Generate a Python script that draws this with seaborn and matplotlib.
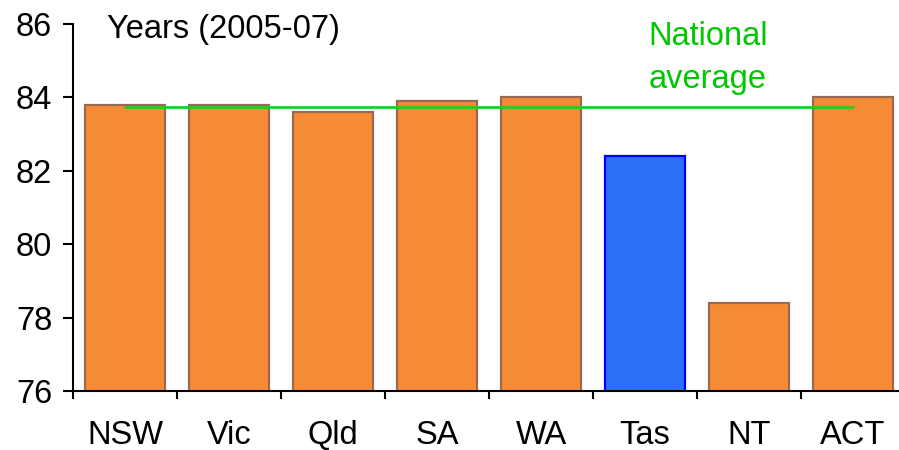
import matplotlib
matplotlib.use("Agg")
import matplotlib.pyplot as plt
import seaborn as sns

states = ["NSW", "Vic", "Qld", "SA", "WA", "Tas", "NT", "ACT"]
life_exp = [83.8, 83.8, 83.6, 83.9, 84.0, 82.4, 78.4, 84.0]
national_avg = 83.75
highlight = "Tas"

sns.set_style("white")
plt.rcParams["font.family"] = ["Liberation Sans", "DejaVu Sans"]
plt.rcParams["text.color"] = "black"
plt.rcParams["xtick.color"] = "black"
plt.rcParams["ytick.color"] = "black"

fig = plt.figure(figsize=(8.99, 4.5), dpi=100)
ax = fig.add_axes([73 / 899, 59 / 450, 832 / 899, 367 / 450])

fill = {s: ("#2E6FF7" if s == highlight else "#F58B35") for s in states}
sns.barplot(x=states, y=life_exp, hue=states, palette=fill, legend=False,
            width=0.77, ax=ax, saturation=1)

for patch, s in zip(ax.patches, states):
    patch.set_edgecolor("#0000FF" if s == highlight else "#9A6A50")
    patch.set_linewidth(1.6)

# national average line runs from the first to the last bar centre
ax.plot([0, len(states) - 1], [national_avg, national_avg],
        color="#22CC22", linewidth=2)

ax.set_ylim(76, 86)
ax.set_yticks([76, 78, 80, 82, 84, 86])
ax.set_xlim(-0.5, len(states) - 0.5)
ax.set_xticks(range(len(states)))
ax.set_xticks([i - 0.5 for i in range(len(states) + 1)], minor=True)

ax.tick_params(axis="y", direction="out", length=7, width=1.5, pad=8,
               labelsize=23.5, left=True)
ax.tick_params(axis="x", which="major", length=0, pad=21, labelsize=23.5)
ax.tick_params(axis="x", which="minor", direction="out", length=6, width=1.5,
               bottom=True)

for side in ["top", "right"]:
    ax.spines[side].set_visible(False)
for side in ["left", "bottom"]:
    ax.spines[side].set_color("black")
    ax.spines[side].set_linewidth(1.5)

ax.text(0.041, 0.962, "Years (2005-07)", transform=ax.transAxes,
        fontsize=23.5, va="baseline", ha="left")
ax.text(0.763, 0.943, "National", transform=ax.transAxes, fontsize=23.5,
        va="baseline", ha="center", color="#00C800")
ax.text(0.763, 0.826, "average", transform=ax.transAxes, fontsize=23.5,
        va="baseline", ha="center", color="#00C800")

fig.savefig("out.png", dpi=100)
